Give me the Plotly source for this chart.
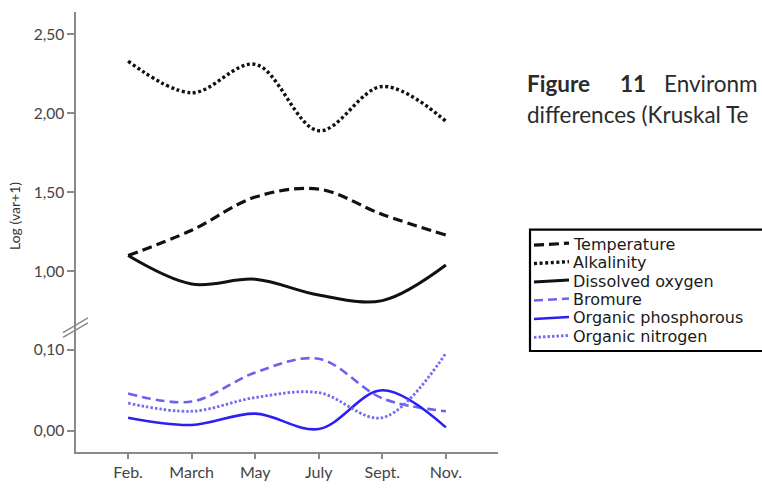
import plotly.graph_objects as go

# Sampling months (evenly spaced categories)
months = ["Feb.", "March", "May", "July", "Sept.", "Nov."]

# Log(var+1) values per month, upper panel
temperature = [1.10, 1.26, 1.47, 1.52, 1.36, 1.23]
alkalinity = [2.33, 2.13, 2.31, 1.89, 2.17, 1.95]
dissolved_oxygen = [1.10, 0.92, 0.95, 0.85, 0.815, 1.04]

# Log(var+1) values per month, lower panel
bromure = [0.046, 0.036, 0.072, 0.089, 0.040, 0.024]
organic_phosphorous = [0.016, 0.007, 0.021, 0.002, 0.050, 0.004]
organic_nitrogen = [0.034, 0.024, 0.041, 0.047, 0.016, 0.096]

upper_ticks = [1.0, 1.5, 2.0, 2.5]
lower_ticks = [0.0, 0.1]

W, H = 762, 493
L, R, T, B = 76, 264, 12, 28
PW, PH = W - L - R, H - T - B


def px(x):
    return (x - L) / PW


def py(y):
    return (H - B - y) / PH


BLACK = "#111111"
C_BROM = "#6c62ef"
C_PHOS = "#2c1ff4"
C_NITR = "#746cf2"

series = [
    ("Temperature", temperature, "y2", BLACK, 3.2, "10px,5px"),
    ("Alkalinity", alkalinity, "y2", BLACK, 3.4, "3px,2.6px"),
    ("Dissolved oxygen", dissolved_oxygen, "y2", BLACK, 3, "solid"),
    ("Bromure", bromure, "y", C_BROM, 2.6, "9px,5px"),
    ("Organic phosphorous", organic_phosphorous, "y", C_PHOS, 2.6, "solid"),
    ("Organic nitrogen", organic_nitrogen, "y", C_NITR, 2.8, "2.5px,2px"),
]

fig = go.Figure()
for name, vals, yax, color, width, dash in series:
    fig.add_trace(go.Scatter(
        x=months, y=vals, yaxis=yax, name=name, mode="lines",
        line=dict(color=color, width=width, dash=dash, shape="spline", smoothing=1.0),
        showlegend=False,
    ))

split = py(335)
axis_font = dict(family="Lato, 'Open Sans', sans-serif", size=15.5, color="#444444")
axis_common = dict(
    showgrid=False, zeroline=False, showline=True, linecolor="#8a8a8a", linewidth=1.5,
    ticks="outside", tickcolor="#8a8a8a", tickwidth=1.5, tickfont=axis_font,
    tickformat=".2f",
)

fig.update_layout(
    width=W, height=H,
    margin=dict(l=L, r=R, t=T, b=B),
    paper_bgcolor="white", plot_bgcolor="white",
    separators=", ",
    xaxis=dict(
        type="category", range=[-0.82, 5.82], showgrid=False, zeroline=False,
        showline=True, linecolor="#8a8a8a", linewidth=1.5,
        ticks="outside", ticklen=5, tickcolor="#8a8a8a", tickwidth=1.5,
        tickfont=dict(family="Lato, 'Open Sans', sans-serif", size=16, color="#444444"),
    ),
    yaxis=dict(domain=[0, split], range=[-0.0265, 0.130], tickvals=lower_ticks,
               ticklen=7, **axis_common),
    yaxis2=dict(domain=[split, 1], range=[0.656, 2.641], tickvals=upper_ticks,
                ticklen=7, anchor="x", **axis_common),
)

shapes = []
annotations = []

# axis break marks
for dy in (0, 5):
    shapes.append(dict(type="line", xref="paper", yref="paper",
                       x0=px(63), y0=py(342 + dy), x1=px(88), y1=py(327 + dy),
                       line=dict(color="#8a8a8a", width=1.5)))

# y-axis title
annotations.append(dict(
    text="Log (var+1)", textangle=-90, xref="paper", yref="paper",
    x=px(15), y=py(222), showarrow=False, xanchor="center", yanchor="middle",
    font=dict(family="Lato, sans-serif", size=14, color="#333333"),
))

# legend box
lg_left, lg_top, lg_bottom = 530, 236, 361
shapes.append(dict(type="rect", xref="paper", yref="paper",
                   x0=px(lg_left), x1=px(820), y0=py(lg_bottom), y1=py(lg_top),
                   line=dict(color="black", width=2.2), fillcolor="white", layer="above"))
row_y = [251, 270, 289, 308, 327, 346]
for (name, vals, yax, color, width, dash), yy in zip(series, row_y):
    shapes.append(dict(type="line", xref="paper", yref="paper",
                       x0=px(534), x1=px(569), y0=py(yy + 1), y1=py(yy - 1),
                       line=dict(color=color, width=width, dash=dash)))
    annotations.append(dict(
        text=name, xref="paper", yref="paper", x=px(571), y=py(yy),
        xanchor="left", yanchor="middle", showarrow=False,
        font=dict(family="'DejaVu Sans', sans-serif", size=16, color="#1a1a1a"),
    ))

# figure caption to the right of the chart
cap_font = dict(family="Lato, sans-serif", size=22.5, color="#2b2b2b")
for txt, xx in (("<b>Figure</b>", 525), ("<b>11</b>", 618), ("Environm", 662)):
    annotations.append(dict(text=txt, xref="paper", yref="paper", x=px(xx), y=py(86),
                            xanchor="left", yanchor="middle", showarrow=False, font=cap_font))
annotations.append(dict(text="differences (Kruskal Te", xref="paper", yref="paper",
                        x=px(525), y=py(118), xanchor="left", yanchor="middle",
                        showarrow=False, font=cap_font))

fig.update_layout(shapes=shapes, annotations=annotations)
fig.write_html("out.html")
